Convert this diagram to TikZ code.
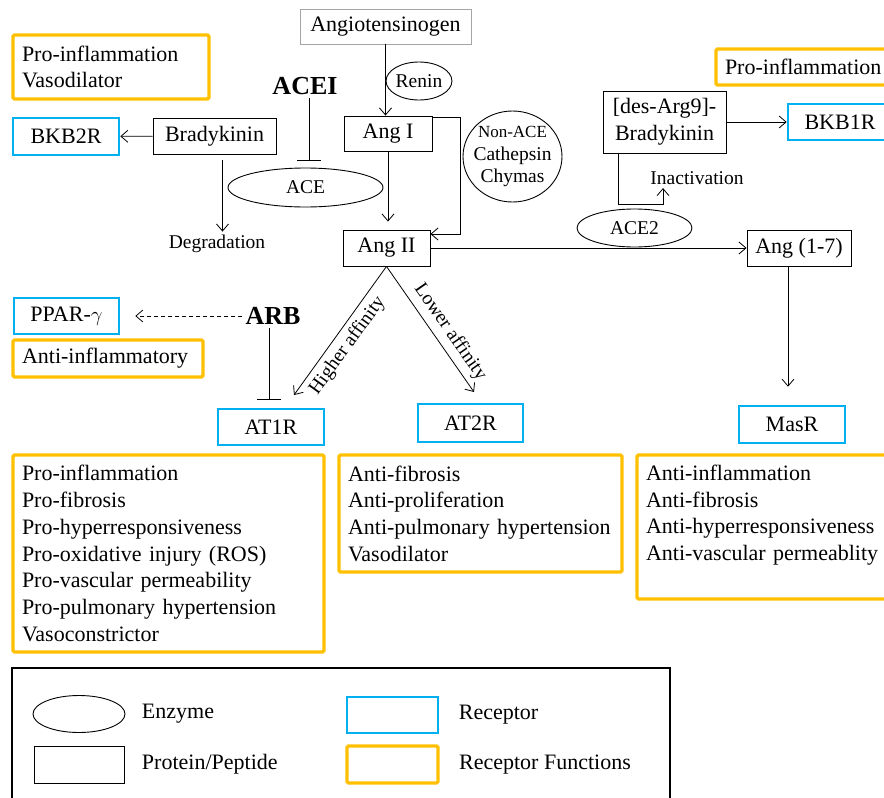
\documentclass[tikz,border=0pt]{standalone}
\usepackage{fontspec}
\setmainfont{Liberation Serif}
\usetikzlibrary{shapes.geometric, arrows.meta, positioning}
\definecolor{rcpblue}{RGB}{0,176,240}
\definecolor{fnorange}{RGB}{255,192,0}
\definecolor{boxgray}{RGB}{165,165,165}
\tikzstyle{protein} = [rectangle, draw=black, line width=0.9pt, text centered, minimum height=36pt]
\tikzstyle{receptor} = [rectangle, draw=rcpblue, line width=2.6pt, text centered, minimum height=37pt]
\tikzstyle{funcbox} = [rectangle, rounded corners=1.5pt, draw=fnorange, line width=3.2pt, align=left, inner xsep=9pt]
\tikzstyle{enzyme} = [ellipse, draw=black, line width=0.9pt, inner sep=0pt]
\tikzstyle{drug} = [font=\fontsize{26}{30}\selectfont\bfseries, inner sep=3pt]
\tikzstyle{note} = [font=\fontsize{19.5}{22.5}\selectfont]
\tikzstyle{arrow} = [line width=0.8pt, -{Straight Barb[length=7pt,width=12pt]}]
\tikzstyle{inhibit} = [line width=0.8pt, -{Bar[width=24pt]}]

\begin{document}
\begin{tikzpicture}[x=1pt, y=-1pt, font=\fontsize{22}{26.7}\selectfont]
\useasboundingbox (0,0) rectangle (884,798);

\node (angiotensinogen) [protein, draw=boxgray, minimum width=171pt, minimum height=35pt] at (385.5,26.5) {Angiotensinogen};
\node (renin) [enzyme, note, minimum width=65pt, minimum height=38pt] at (419,81) {Renin};
\node (angi) [protein, minimum width=88pt, minimum height=35pt] at (388,133.5) {Ang I};
\node (angii) [protein, minimum width=87pt] at (386.5,248) {Ang II};
\node (nonace) [enzyme, note, align=center, inner xsep=-6pt, minimum width=99pt, minimum height=91pt] at (512.5,156.5) {{\fontsize{17}{22.5}\selectfont Non-ACE}\\Cathepsin\\Chymas};
\node (acei) [drug] at (305,86) {ACEI};
\node (ace) [enzyme, note, minimum width=155pt, minimum height=39pt] at (305.5,187.5) {ACE};
\node (bradykinin) [protein, minimum width=123pt] at (214.5,136) {Bradykinin};
\node (bkbtwor) [receptor, minimum width=106pt] at (66,136.5) {BKB2R};
\node (degradation) [note] at (217,244) {Degradation};
\node (proinfvaso) [funcbox, text width=178pt, minimum height=64pt] at (111,67) {Pro-inflammation\\Vasodilator};
\node (proinfright) [funcbox, text width=158pt, minimum height=36pt] at (804,67) {Pro-inflammation};
\node (desarg) [protein, align=center, minimum width=123pt, minimum height=62pt] at (664.5,122) {{[}des-Arg9{]}-\\Bradykinin};
\node (bkboner) [receptor, minimum width=104pt, minimum height=36pt] at (840,122) {BKB1R};
\node (inactivation) [note] at (697,178) {Inactivation};
\node (acetwo) [enzyme, note, minimum width=115pt, minimum height=38pt] at (634.5,228) {ACE2};
\node (angonesev) [protein, minimum width=104pt] at (799,248) {Ang (1-7)};
\node (ppar) [receptor, minimum width=105pt, minimum height=36pt] at (66.5,316) {PPAR-$\gamma$};
\node (antiinf) [funcbox, text width=172pt, minimum height=37pt] at (108,358.5) {Anti-inflammatory};
\node (arb) [drug] at (273,316) {ARB};
\node (atoner) [receptor, minimum width=106pt, minimum height=36pt] at (271,427) {AT1R};
\node (attwor) [receptor, minimum width=105pt, minimum height=38pt] at (470.5,423) {AT2R};
\node (masr) [receptor, minimum width=106pt, minimum height=37pt] at (792,424.5) {MasR};
\node (atonerfn) [funcbox, text width=293pt, minimum height=197pt] at (168.5,553.5) {Pro-inflammation\\Pro-fibrosis\\Pro-hyperresponsiveness\\Pro-oxidative injury (ROS)\\Pro-vascular permeability\\Pro-pulmonary hypertension\\Vasoconstrictor};
\node (attworfn) [funcbox, text width=265pt, minimum height=117pt] at (480.5,513.5) {Anti-fibrosis\\Anti-proliferation\\Anti-pulmonary hypertension\\Vasodilator};
\node (masrfn) [funcbox, text width=237pt, inner ysep=10pt] at (764.5,527) {\parbox[c][124pt][t]{237pt}{Anti-inflammation\\Anti-fibrosis\\Anti-hyperresponsiveness\\Anti-vascular permeablity}};
\coordinate (hightip) at (294,395);
\coordinate (lowtip) at (474,392);

\draw [arrow] (angiotensinogen.south) -- (angiotensinogen.south |- angi.north);
\draw [arrow, shorten >=8pt] (angi.south) -- (angi.south |- angii.north);
\draw [arrow] ([yshift=-2pt]angi.north east) -- ++(28,0) |- ([yshift=14pt]angii.east);
\draw [arrow] (angii) edge (angonesev);
\draw [arrow] (bradykinin) edge (bkbtwor);
\draw [arrow, shorten <=6pt] ([xshift=8pt]bradykinin.south) -- ([xshift=8pt]bradykinin.south |- degradation.north);
\draw [inhibit, shorten >=7pt] ([xshift=4pt]acei.south) -- ([xshift=4pt]acei.south |- ace.north);
\draw [arrow] (desarg) edge (bkboner);
\draw [arrow] ([xshift=-46.5pt]desarg.south) |- ++(45,51) -- ([xshift=-34pt]inactivation.south);
\draw [arrow, shorten >=18pt] ([xshift=-11pt]angonesev.south) -- ([xshift=-11pt]angonesev.south |- masr.north);
\draw [arrow] (angii.south) -- node[note, sloped, below=2pt, pos=0.55] {Higher affinity} (hightip);
\draw [arrow] (angii.south) -- node[note, sloped, above=2pt, pos=0.59] {Lower affinity} (lowtip);
\draw [arrow, dash pattern=on 4pt off 3pt, shorten >=15pt] (arb) edge (ppar);
\draw [inhibit, shorten >=8pt] ([xshift=-4pt]arb.south) -- ([xshift=-4pt]arb.south |- atoner.north);

\draw [line width=1.2pt] (12,668) rectangle (670,812);
\node (legenzyme) [enzyme, minimum width=92pt, minimum height=37pt] at (79,714) {};
\node (legenzymetext) [right=13pt of legenzyme] {Enzyme};
\node (legprotein) [protein, minimum width=90pt, minimum height=37pt] at (79,764.5) {};
\node (legproteintext) [right=14pt of legprotein] {Protein/Peptide};
\node (legreceptor) [receptor, minimum width=91pt, minimum height=36pt] at (392.5,715) {};
\node (legreceptortext) [right=16pt of legreceptor] {Receptor};
\node (legfunction) [funcbox, minimum width=91pt, minimum height=37pt] at (392.5,764.5) {};
\node (legfunctiontext) [right=16pt of legfunction] {Receptor Functions};

\end{tikzpicture}
\end{document}
